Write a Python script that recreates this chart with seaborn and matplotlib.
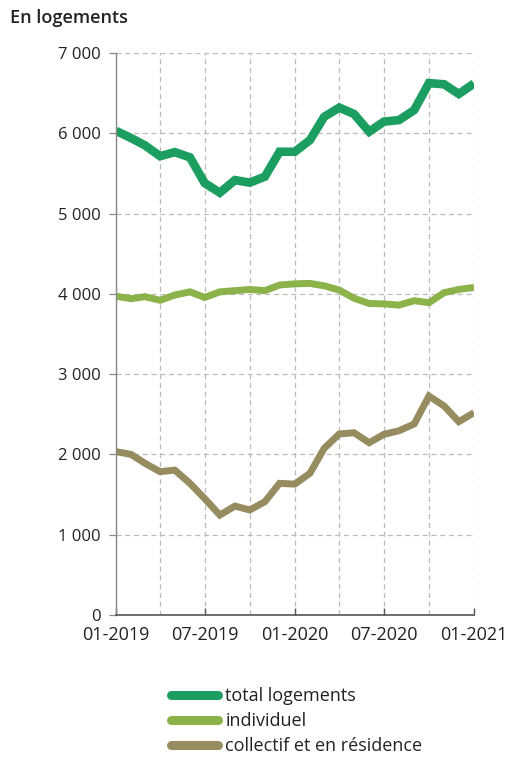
import matplotlib
matplotlib.use("Agg")
import matplotlib.pyplot as plt
import matplotlib.dates as mdates
import matplotlib.ticker as mticker
import numpy as np
import pandas as pd
import seaborn as sns

months = pd.date_range("2019-01-01", "2021-01-01", freq="MS")
total = [6030, 5940, 5850, 5715, 5765, 5700, 5380, 5260, 5417, 5385, 5460, 5770,
         5770, 5915, 6205, 6320, 6240, 6020, 6145, 6165, 6290, 6625, 6610, 6490, 6620]
individuel = [3970, 3940, 3965, 3920, 3985, 4025, 3955, 4025, 4040, 4055, 4040, 4110,
              4125, 4130, 4100, 4047, 3945, 3880, 3875, 3860, 3915, 3890, 4015, 4055, 4080]
collectif = [2035, 2000, 1890, 1785, 1805, 1640, 1450, 1245, 1357, 1308, 1411, 1640,
             1630, 1765, 2075, 2255, 2270, 2146, 2250, 2295, 2380, 2727, 2603, 2408, 2520]
series_names = ["total logements", "individuel", "collectif et en résidence"]
colors = ["#1B9E5F", "#8CB24A", "#978C60"]
widths = [6.2, 5.0, 5.0]
yticks = [0, 1000, 2000, 3000, 4000, 5000, 6000, 7000]

df = pd.DataFrame({"date": list(months) * 3,
                   "value": total + individuel + collectif,
                   "serie": [series_names[0]] * 25 + [series_names[1]] * 25 + [series_names[2]] * 25})

sns.set_style("white")
plt.rcParams["font.family"] = ["Open Sans", "DejaVu Sans"]

fig = plt.figure(figsize=(5.19, 7.60), dpi=100)
ax = fig.add_axes([116 / 519, 1 - 615 / 760, (474 - 116) / 519, (615 - 53) / 760])

sns.lineplot(data=df, x="date", y="value", hue="serie", palette=colors,
             hue_order=series_names, ax=ax, legend=False)
for line, w in zip(ax.get_lines(), widths):
    line.set_linewidth(w)
    line.set_solid_joinstyle("miter")
    line.set_solid_capstyle("butt")

ax.set_xlim(months[0], months[-1])
ax.set_ylim(0, 7000)
ax.set_yticks(yticks)
ax.yaxis.set_major_formatter(mticker.FuncFormatter(lambda v, p: f"{int(v):,}".replace(",", " ")))
ax.xaxis.set_major_locator(mdates.MonthLocator(bymonth=[1, 7]))
ax.xaxis.set_minor_locator(mdates.MonthLocator(bymonth=[1, 4, 7, 10]))
ax.xaxis.set_major_formatter(mdates.DateFormatter("%m-%Y"))

ax.grid(True, which="both", axis="x", color="#bbbbbb", linestyle=(0, (4, 3)), linewidth=0.9)
ax.grid(True, which="major", axis="y", color="#bbbbbb", linestyle=(0, (4, 3)), linewidth=0.9)
ax.set_axisbelow(True)

for s in ["top", "right"]:
    ax.spines[s].set_visible(False)
ax.spines["left"].set_color("#888888")
ax.spines["bottom"].set_color("#555555")
ax.spines["left"].set_linewidth(1.0)
ax.spines["bottom"].set_linewidth(1.2)

ax.tick_params(axis="y", which="major", length=5, width=0.9, color="#888888",
               labelsize=12, labelcolor="#222222", pad=6, left=True)
ax.tick_params(axis="x", which="major", length=5, width=1.0, color="#555555", direction="in",
               labelsize=13, labelcolor="#222222", pad=8, bottom=True)
ax.tick_params(axis="x", which="minor", length=0)
ax.set_xlabel("")
ax.set_ylabel("")

fig.text(10 / 519, 1 - 18 / 760, "En logements", fontsize=13, fontweight="semibold",
         color="#222222", ha="left", va="center")

from matplotlib.lines import Line2D
handles = [Line2D([0], [0], color=c, lw=6.5, solid_capstyle="round") for c in colors]
fig.legend(handles, series_names, loc="upper left", bbox_to_anchor=(164 / 519, 1 - 680 / 760),
           frameon=False, fontsize=13, handlelength=2.6, handletextpad=0.4,
           labelspacing=0.38, borderaxespad=0, labelcolor="#222222")

fig.savefig("out.png", dpi=100)
